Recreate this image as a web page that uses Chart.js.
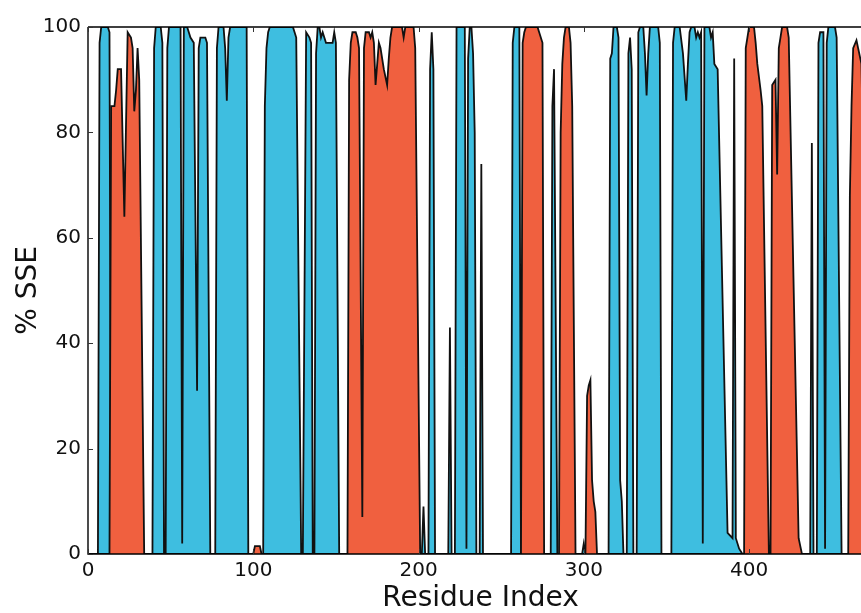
<!DOCTYPE html>
<html>
<head>
<meta charset="utf-8">
<script src="https://cdn.jsdelivr.net/npm/chart.js@4.4.1/dist/chart.umd.min.js"></script>
<style>
  html, body { margin: 0; padding: 0; overflow: hidden; background: #fff; }
  #wrap { width: 873px; height: 613px; }
</style>
</head>
<body>
<div id="wrap"><canvas id="sse" width="873" height="613"></canvas></div>
<script>
// % of frames in helix (red) / strand (blue), by residue index
const helixRes = [0, 13, 14, 16, 17, 18, 20, 22, 24, 26, 27, 28, 29, 30, 31, 34,
    100, 101, 104, 105,
    157, 158, 159, 160, 162, 163, 164, 166, 167, 168, 170, 171, 172, 173, 174, 175, 176, 177, 179, 181, 182, 183, 184, 190, 191, 192, 197, 198, 201,
    262, 263, 264, 265, 272, 273, 275, 276,
    285, 286, 287, 288, 289, 291, 292, 293, 295,
    301, 302, 303, 304, 305, 306, 307, 308,
    397, 398, 399, 400, 403, 404, 405, 407, 408, 412,
    413, 414, 416, 417, 418, 419, 420, 423, 424, 430, 432,
    460, 461, 462, 463, 465, 466, 468, 470, 472, 475];
const helixPct = [0, 0, 85, 85, 88, 92, 92, 64, 99, 98, 96, 84, 88, 96, 90, 0,
    0, 1.5, 1.5, 0,
    0, 90, 97, 99, 99, 98, 96, 7, 96, 99, 99, 98, 99, 97, 89, 93, 97, 96, 92, 89, 94, 98, 100, 100, 98, 100, 100, 96, 0,
    0, 97, 99, 100, 100, 99, 97, 0,
    0, 80, 93, 98, 100, 100, 97, 85, 0,
    0, 30, 32, 33, 14, 10, 8, 0,
    0, 96, 98, 100, 100, 97, 93, 88, 85, 0,
    0, 89, 90, 72, 96, 98, 100, 100, 98, 3, 0,
    0, 68, 85, 96, 97.5, 96, 93, 60, 0, 0];

const strandRes = [0, 6, 7, 8, 12, 13, 14,
    39, 40, 41, 44, 45, 46,
    47, 48, 49, 56, 57, 58, 60, 62, 64, 66, 67, 68, 71, 72, 74,
    77, 78, 79, 82, 83, 84, 85, 86, 96, 97,
    106, 107, 108, 109, 110, 124, 125, 126, 129,
    130, 132, 134, 135, 136,
    137, 138, 139, 140, 141, 142, 143, 144, 148, 149, 150, 152,
    202, 203, 204,
    206, 207, 208, 209, 210,
    218, 219, 220,
    222, 223, 228, 229, 230, 231, 232, 233, 234, 235,
    237, 238, 239,
    256, 257, 258, 261, 262,
    280, 281, 282, 284,
    299, 300, 301,
    315, 316, 317, 318, 320, 321, 322, 323, 324,
    326, 327, 328, 329, 330,
    332, 333, 334, 336, 337, 338, 339, 340, 345, 346, 347,
    353, 354, 355, 358, 360, 362, 363, 364, 365, 367, 368, 369, 370, 371, 372, 373, 376, 377, 378, 379, 381, 387, 390, 391, 392, 394, 396,
    437, 438, 439,
    441, 442, 443, 445, 446, 447, 448, 452, 453, 456, 475];
const strandPct = [0, 0, 97, 100, 100, 99, 0,
    0, 96, 100, 100, 97, 0,
    0, 96, 100, 100, 2, 100, 100, 98, 97, 31, 96, 98, 98, 97, 0,
    0, 96, 100, 100, 96, 86, 98, 100, 100, 0,
    0, 85, 96, 99, 100, 100, 99, 98, 0,
    0, 99, 98, 97, 0,
    0, 95, 100, 100, 98, 99, 98, 97, 97, 99, 97, 0,
    0, 9, 0,
    0, 92, 99, 92, 0,
    0, 43, 0,
    0, 100, 100, 1, 94, 100, 100, 95, 80, 0,
    0, 74, 0,
    0, 97, 100, 100, 0,
    0, 85, 92, 0,
    0, 2, 0,
    0, 94, 95, 100, 100, 98, 14, 10, 0,
    0, 95, 98, 92, 0,
    0, 99, 100, 100, 95, 87, 95, 100, 100, 97, 0,
    0, 97, 100, 100, 95, 86, 93, 99, 100, 100, 98, 99, 98, 99, 2, 100, 100, 98, 99, 93, 92, 4, 3, 94, 3, 1, 0,
    0, 78, 0,
    0, 97, 99, 99, 1, 97, 100, 100, 98, 0, 0];

const xTicks = [0, 100, 200, 300, 400];
const yTicks = [0, 20, 40, 60, 80, 100];
const xMax = 475;

function toPoints(xs, ys) {
    return xs.map((x, i) => ({ x: x, y: ys[i] }));
}

// matplotlib-style frame: top/left/bottom spines with inward ticks, drawn over the fills
const frameTicks = {
    id: "frameTicks",
    afterDatasetsDraw(chart) {
        const { ctx, chartArea: a, scales } = chart;
        ctx.save();
        ctx.strokeStyle = "#000";
        ctx.lineWidth = 1.4;
        ctx.beginPath();
        ctx.moveTo(a.left, a.top);
        ctx.lineTo(a.right, a.top);
        ctx.moveTo(a.left, a.top);
        ctx.lineTo(a.left, a.bottom);
        ctx.lineTo(a.right, a.bottom);
        ctx.stroke();

        ctx.lineWidth = 1;
        ctx.strokeStyle = "#333";
        ctx.beginPath();
        yTicks.forEach((v) => {
            const y = Math.round(scales.y.getPixelForValue(v)) + 0.5;
            ctx.moveTo(a.left, y);
            ctx.lineTo(a.left + 5, y);
        });
        xTicks.forEach((v) => {
            const x = Math.round(scales.x.getPixelForValue(v)) + 0.5;
            ctx.moveTo(x, a.top);
            ctx.lineTo(x, a.top + 5);
            ctx.moveTo(x, a.bottom);
            ctx.lineTo(x, a.bottom - 5);
        });
        ctx.stroke();
        ctx.restore();
    },
};

const font = "'DejaVu Sans', sans-serif";

new Chart(document.getElementById("sse"), {
    type: "line",
    data: {
        datasets: [
            {
                label: "Helix",
                data: toPoints(helixRes, helixPct),
                backgroundColor: "#F0603F",
                borderColor: "#111",
                borderWidth: 1.8,
                fill: "origin",
                pointRadius: 0,
                tension: 0,
            },
            {
                label: "Strand",
                data: toPoints(strandRes, strandPct),
                backgroundColor: "#3EBEE0",
                borderColor: "#111",
                borderWidth: 1.8,
                fill: "origin",
                pointRadius: 0,
                tension: 0,
            },
        ],
    },
    options: {
        responsive: false,
        animation: false,
        layout: { padding: { top: 27, right: 0, bottom: 0, left: 0 } },
        plugins: {
            legend: { display: false },
            tooltip: { enabled: false },
        },
        scales: {
            x: {
                type: "linear",
                min: 0,
                max: xMax,
                afterBuildTicks: (axis) => {
                    axis.ticks = xTicks.map((v) => ({ value: v }));
                },
                afterFit: (scale) => {
                    scale.height = 59;
                },
                grid: { display: false, drawTicks: false },
                border: { display: false },
                ticks: {
                    padding: 5,
                    color: "#111",
                    maxRotation: 0,
                    font: { family: font, size: 20 },
                },
                title: {
                    display: true,
                    text: "Residue Index",
                    color: "#111",
                    padding: { top: 0, bottom: 0 },
                    font: { family: font, size: 28, lineHeight: 1.0 },
                },
            },
            y: {
                min: 0,
                max: 100,
                afterBuildTicks: (axis) => {
                    axis.ticks = yTicks.map((v) => ({ value: v }));
                },
                afterFit: (scale) => {
                    scale.width = 88;
                },
                grid: { display: false, drawTicks: false },
                border: { display: false },
                ticks: {
                    padding: 7,
                    color: "#111",
                    font: { family: font, size: 20 },
                },
                title: {
                    display: true,
                    text: "% SSE",
                    color: "#111",
                    padding: { top: 15, bottom: 0 },
                    font: { family: font, size: 28, lineHeight: 1.0 },
                },
            },
        },
    },
    plugins: [frameTicks],
});
</script>
</body>
</html>
